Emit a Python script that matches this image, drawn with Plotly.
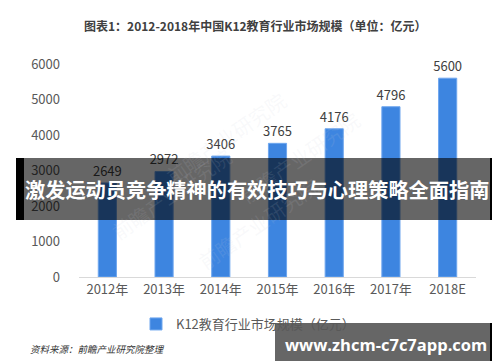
import plotly.graph_objects as go

categories = ["2012年", "2013年", "2014年", "2015年", "2016年", "2017年", "2018E"]
values = [2649, 2972, 3406, 3765, 4176, 4796, 5600]
series_name = "K12教育行业市场规模（亿元）"
title_text = "图表1：2012-2018年中国K12教育行业市场规模（单位：亿元）"
source_text = "资料来源：前瞻产业研究院整理"
banner_text = "激发运动员竞争精神的有效技巧与心理策略全面指南"
url_text = "www.zhcm-c7c7app.com"
y_ticks = [0, 1000, 2000, 3000, 4000, 5000, 6000]

W, H = 500, 362
L, R, T, B = 71, 32, 56, 93
PW, PH = W - L - R, H - T - B


def px(x):
    return (x - L) / PW


def py(y):
    return (H - B - y) / PH


CJK = "Noto Sans CJK SC, Open Sans, sans-serif"

fig = go.Figure()
fig.add_trace(go.Bar(
    x=categories, y=values, name=series_name,
    marker=dict(color="#3D85E0", line=dict(color="#6EA6EE", width=1)),
    text=[str(v) for v in values], textposition="outside", constraintext="none",
    textfont=dict(size=13, color="#404040", family=CJK),
    cliponaxis=False, showlegend=True,
))

shapes = []
# banner
for x0, x1, col in [(8, 16, "black"), (16, 482, "rgba(0,0,0,0.6)"), (482, 492, "black")]:
    shapes.append(dict(type="rect", xref="paper", yref="paper",
                       x0=px(x0), x1=px(x1), y0=py(212), y1=py(150),
                       fillcolor=col, line=dict(width=0), layer="above"))
# url box
for x0, x1, col in [(267, 482, "rgba(0,0,0,0.6)"), (482, 491, "black")]:
    shapes.append(dict(type="rect", xref="paper", yref="paper",
                       x0=px(x0), x1=px(x1), y0=py(353), y1=py(315),
                       fillcolor=col, line=dict(width=0), layer="above"))

annotations = [
    dict(text="<b>" + title_text + "</b>", xref="paper", yref="paper",
         x=px(247), y=py(17), xanchor="center", yanchor="middle", showarrow=False,
         font=dict(size=12, color="#404040", family=CJK)),
    dict(text="<i>" + source_text + "</i>", xref="paper", yref="paper",
         x=px(20), y=py(341), xanchor="left", yanchor="middle", showarrow=False,
         font=dict(size=9.5, color="#333333", family=CJK)),
]
# faint watermarks
for (wx, wy) in [(150, 75), (360, 95), (250, 270), (95, 185)]:
    annotations.append(dict(text="前瞻产业研究院", xref="paper", yref="paper",
                            x=px(wx), y=py(wy), showarrow=False, textangle=-35,
                            font=dict(size=20, color="rgba(200,205,215,0.12)", family=CJK)))
annotations += [
    dict(text="<b>" + banner_text + "</b>", xref="paper", yref="paper",
         x=px(249), y=py(181), xanchor="center", yanchor="middle", showarrow=False,
         font=dict(size=20.2, color="white", family=CJK)),
    dict(text="<b>" + url_text + "</b>", xref="paper", yref="paper",
         x=px(378), y=py(336), xanchor="center", yanchor="middle", showarrow=False,
         font=dict(size=16.5, color="white", family="Open Sans, sans-serif")),
]

fig.update_layout(
    width=W, height=H,
    margin=dict(l=L, r=R, t=T, b=B),
    paper_bgcolor="white", plot_bgcolor="white",
    bargap=0.68,
    font=dict(family=CJK, color="#595959"),
    xaxis=dict(showline=True, linecolor="#D9D9D9", linewidth=1, ticks="",
               tickfont=dict(size=13, color="#595959", family=CJK),
               ticklabelstandoff=0, showgrid=False, zeroline=False),
    yaxis=dict(range=[0, 6000], tickvals=y_ticks, showgrid=False, zeroline=False,
               showline=False, ticks="", ticklabelstandoff=18,
               tickfont=dict(size=13, color="#595959", family=CJK)),
    showlegend=True,
    legend=dict(orientation="h", xanchor="center", yanchor="middle",
                x=px(240), y=py(316), font=dict(size=13, color="#595959", family=CJK),
                itemwidth=30, bgcolor="rgba(0,0,0,0)"),
    shapes=shapes, annotations=annotations,
)

fig.write_html("out.html")
